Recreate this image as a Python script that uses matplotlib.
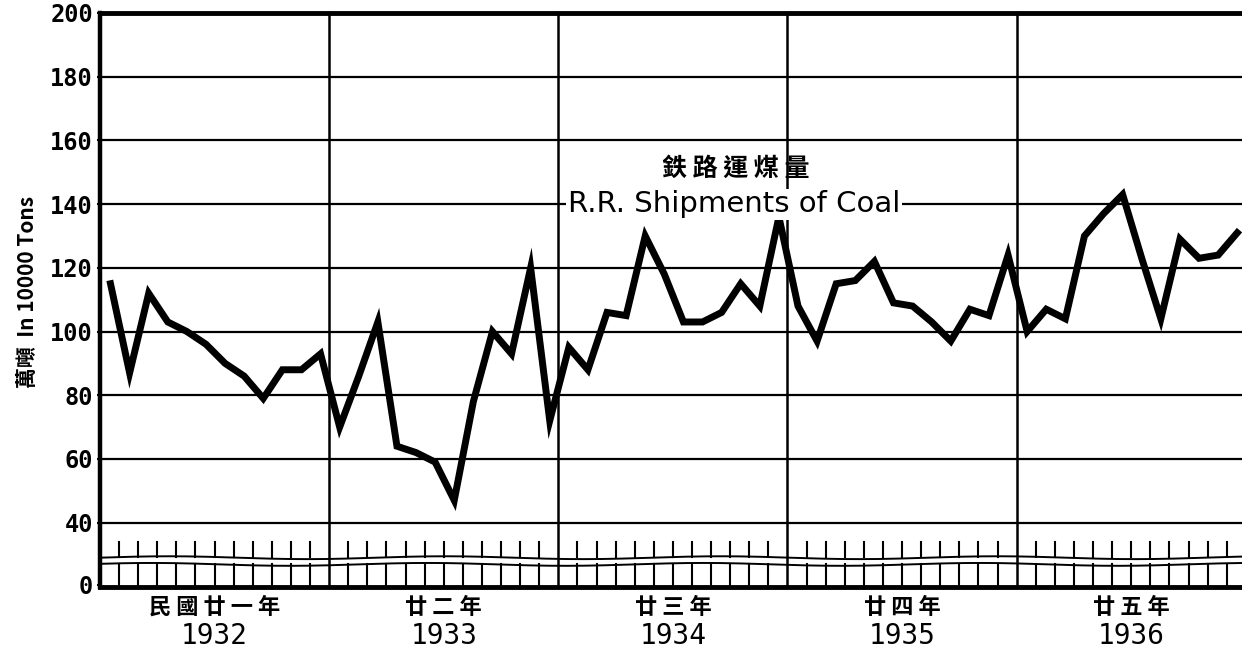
import numpy as np
import matplotlib
matplotlib.use("Agg")
import matplotlib.pyplot as plt

# ---- data (10000 tons, monthly) ----
years = [1932, 1933, 1934, 1935, 1936]
year_labels_cn = ["民國廿一年", "廿二年", "廿三年", "廿四年", "廿五年"]
v1932 = [115, 87, 112, 103, 100, 96, 90, 86, 79, 88, 88, 93]
v1933 = [70, 86, 103, 64, 62, 59, 47, 78, 100, 93, 120, 72]
v1934 = [95, 88, 106, 105, 130, 118, 103, 103, 106, 115, 108, 136]
v1935 = [108, 97, 115, 116, 122, 109, 108, 103, 97, 107, 105, 124]
v1936 = [100, 107, 104, 130, 137, 143, 123, 104, 129, 123, 124, 131]
ytick_vals = [40, 60, 80, 100, 120, 140, 160, 180, 200]

values = v1932 + v1933 + v1934 + v1935 + v1936
months = np.arange(len(values)) + 0.55

cjk = ["Noto Sans CJK TC", "DejaVu Sans"]

W, H = 1242, 654
fig = plt.figure(figsize=(W/100, H/100), dpi=100)
ax = fig.add_axes([100/W, 1-587/H, 1142/W, (587-13)/H])
YMIN = 19.8
ax.set_xlim(0, 59.8)
ax.set_ylim(YMIN, 200)

# grid
for v in ytick_vals[:-1]:
    ax.axhline(v, color="black", lw=1.6, zorder=1)
for k in range(1, 5):
    ax.axvline(12*k, color="black", lw=1.8, zorder=1)

# broken-axis strip at the bottom
xx = np.linspace(0, 59.8, 400)
ax.plot(xx, 29.0 + 0.45*np.sin(xx/2.3), color="black", lw=1.4, zorder=2)
ax.plot(xx, 26.9 + 0.45*np.sin(xx/2.3 + 0.4), color="black", lw=1.4, zorder=2)
for m in range(1, 60):
    if m % 12 == 0:
        continue
    ax.plot([m, m], [29.3, 33.8], color="black", lw=1.5, zorder=2)
    ax.plot([m, m], [YMIN, 26.9], color="black", lw=1.5, zorder=2)

# data line
ax.plot(months, values, color="black", lw=5, solid_joinstyle="miter", zorder=4)

# spines
ax.spines["right"].set_visible(False)
ax.spines["left"].set_linewidth(3.2)
ax.spines["top"].set_linewidth(3.5)
ax.spines["bottom"].set_linewidth(3.5)

ax.set_xticks([])
ax.set_yticks([20.5] + ytick_vals)
ax.set_yticklabels(["0"] + [str(v) for v in ytick_vals],
                   family="DejaVu Sans Mono", fontweight="bold", fontsize=17)
ax.tick_params(axis="y", length=2, width=1.5, pad=3)

# year labels
for i, (y, cn) in enumerate(zip(years, year_labels_cn)):
    xc = (100 + (12*i + 6) * 1142/59.8) / W
    fig.text(xc, 1-607/H, " ".join(cn), ha="center", va="center", fontsize=16,
             fontweight="bold", family=cjk)
    fig.text(xc, 1-636/H, str(y), ha="center", va="center", fontsize=20,
             family="DejaVu Sans Mono")

# y label
fig.text(28/W, 1-292/H, "萬噸  In 10000 Tons", rotation=90, ha="center",
         va="center", fontsize=15, fontweight="bold", family=cjk)

# title
ax.text(33.3, 151, "鉄 路 運 煤 量", ha="center", va="center", fontsize=18,
        fontweight="bold", family=cjk, zorder=5)
ax.text(33.2, 140, "R.R. Shipments of Coal", ha="center", va="center",
        fontsize=21, family="DejaVu Sans",
        bbox=dict(facecolor="white", edgecolor="none", pad=1.0), zorder=5)

fig.savefig("out.png", dpi=100)
